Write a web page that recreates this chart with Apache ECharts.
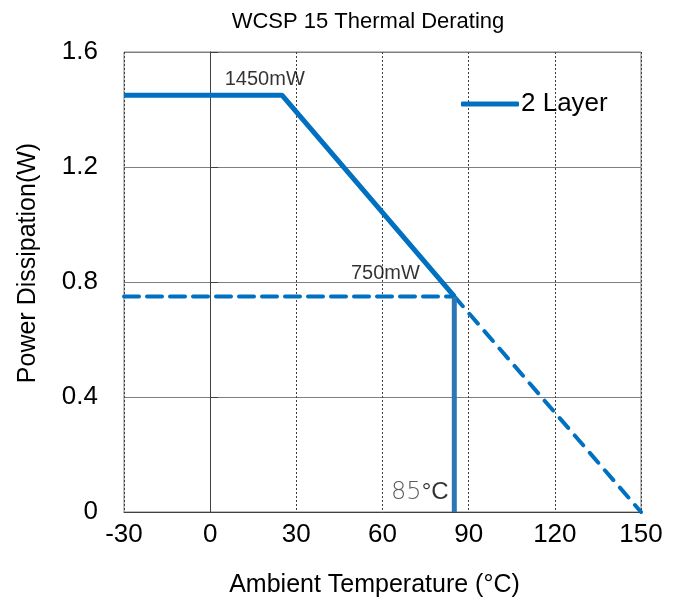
<!DOCTYPE html>
<html>
<head>
<meta charset="utf-8">
<script src="https://cdn.jsdelivr.net/npm/echarts@6/dist/echarts.min.js"></script>
<style>html,body{margin:0;padding:0;background:#fff}#c{width:681px;height:606px}</style>
</head>
<body>
<div id="c"></div>
<script>
// Data
const xTicks = [-30, 0, 30, 60, 90, 120, 150];
const yTicks = [0, 0.4, 0.8, 1.2, 1.6];
const solidTemp = [-30, 25, 85];
const solidPower = [1.45, 1.45, 0.75];
const dashFlatTemp = [-30, 85];
const dashFlatPower = [0.75, 0.75];
const dashSlopeTemp = [85, 150];
const dashSlopePower = [0.75, 0];
const limitTemp = [85, 85];
const limitPower = [0.75, 0];
const noteTemp = [19, 61, 73];
const notePower = [1.505, 0.83, 0.068];
const noteText = ['1450mW', '750mW', '85°C'];

const zip = (a, b) => a.map((v, i) => [v, b[i]]);
const FONT = 'Liberation Sans, Arial, sans-serif';

const chart = echarts.init(document.getElementById('c'));
chart.setOption({
  animation: false,
  textStyle: { fontFamily: FONT },
  title: {
    text: 'WCSP 15 Thermal Derating',
    left: 363, top: 6, textAlign: 'center',
    textStyle: { fontSize: 22, fontWeight: 'normal', color: '#000', fontFamily: FONT }
  },
  grid: { left: 124, right: 40, top: 52, bottom: 94, show: true, borderColor: '#7f7f7f', borderWidth: 1 },
  legend: {
    left: 456, top: 86,
    data: [{ name: '2 Layer', icon: 'roundRect' }],
    itemWidth: 58, itemHeight: 5, itemGap: 2,
    textStyle: { fontSize: 26, color: '#000', fontFamily: FONT, padding: [0, 0, 0, -3] }
  },
  xAxis: {
    type: 'value', min: xTicks[0], max: xTicks[xTicks.length - 1], interval: 30,
    name: 'Ambient Temperature (°C)', nameLocation: 'middle', nameGap: 61,
    nameTextStyle: { fontSize: 25, color: '#000', fontFamily: FONT, padding: [0, 16, 0, 0] },
    axisLine: { show: true, lineStyle: { color: '#404040', width: 1 } },
    axisTick: { show: false },
    axisLabel: { fontSize: 26, color: '#000', margin: 10, fontFamily: FONT },
    splitLine: { show: true, lineStyle: { color: '#404040', type: [2, 2], width: 1 } }
  },
  yAxis: {
    type: 'value', min: yTicks[0], max: yTicks[yTicks.length - 1], interval: 0.4,
    name: 'Power Dissipation(W)', nameLocation: 'middle', nameGap: 83,
    nameTextStyle: { fontSize: 25, color: '#000', fontFamily: FONT, padding: [0, 0, 0, 38] },
    axisLine: { show: true, lineStyle: { color: '#404040', width: 1 } },
    axisTick: { show: true, inside: true, length: 8, lineStyle: { color: '#404040' } },
    axisLabel: { fontSize: 26, color: '#000', margin: 26, fontFamily: FONT },
    splitLine: { show: true, lineStyle: { color: '#7f7f7f', width: 1 } }
  },
  series: [
    {
      name: 'flat', type: 'line', data: zip(dashFlatTemp, dashFlatPower), symbol: 'none',
      lineStyle: { color: '#0070C0', width: 4, type: [15, 8], cap: 'round' }, z: 3
    },
    {
      name: 'slope', type: 'line', data: zip(dashSlopeTemp, dashSlopePower), symbol: 'none',
      lineStyle: { color: '#0070C0', width: 4, type: [13, 10], cap: 'round' }, z: 3
    },
    {
      name: 'limit', type: 'line', data: zip(limitTemp, limitPower), symbol: 'none',
      lineStyle: { color: '#2E75B6', width: 5 }, z: 4
    },
    {
      name: '2 Layer', type: 'line', data: zip(solidTemp, solidPower), symbol: 'none',
      color: '#0070C0',
      lineStyle: { color: '#0070C0', width: 5 }, z: 5
    },
    {
      name: 'notes', type: 'scatter', symbolSize: 0, silent: true,
      data: noteTemp.map((t, i) => ({ value: [t, notePower[i]], name: noteText[i] })),
      label: {
        show: true, position: 'inside', color: '#000',
        formatter: p => p.dataIndex === 2 ? '{a|85}{b|°C}' : '{s|' + p.name + '}',
        rich: {
          s: { fontSize: 20, fontFamily: FONT, color: '#000' },
          a: { fontSize: 24, fontFamily: 'DejaVu Sans', color: '#333', fontWeight: 'lighter' },
          b: { fontSize: 24, fontFamily: FONT, color: '#000' }
        }
      }
    }
  ]
});
</script>
</body>
</html>
